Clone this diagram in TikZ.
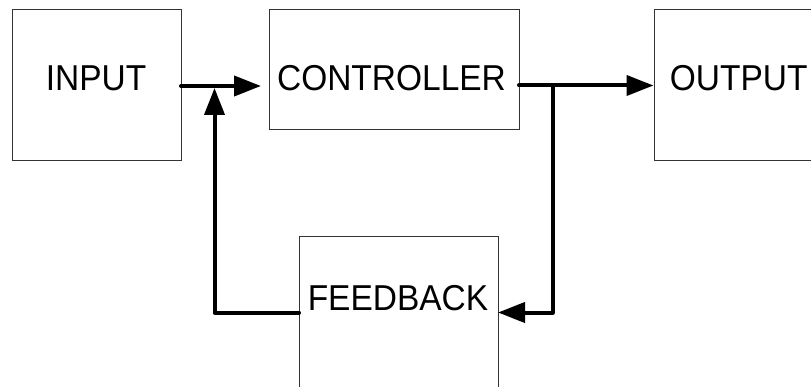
\documentclass[tikz,border=0pt]{standalone}
\usepackage{fontspec}
\setmainfont[FakeStretch=0.93]{Liberation Sans}
\usetikzlibrary{arrows.meta,calc}
\begin{document}
\begin{tikzpicture}[x=1pt,y=-1pt,
  box/.style={draw=black!80,line width=1pt,rectangle,inner sep=0pt,fill=none},
  lbl/.style={anchor=base,inner sep=0pt,font=\fontsize{36}{40}\selectfont},
  conn/.style={line width=4pt,line cap=round,line join=round,
    -{Triangle[length=27pt,width=20pt]}},
  plain/.style={line width=4pt,line cap=round,line join=round}]
\clip (0,0) rectangle (811,387);
\fill[white] (0,0) rectangle (811,387);
% boxes
\node[box,minimum width=169pt,minimum height=151pt] (in) at (96.5,85.5) {};
\node[box,minimum width=250pt,minimum height=120pt] (ctrl) at (394,70) {};
\node[box,minimum width=176pt,minimum height=151pt] (out) at (742,85.5) {};
\node[box,minimum width=199pt,minimum height=170pt] (fb) at (398.5,322) {};
% labels
\node[lbl] (tin) at (96,90.7) {INPUT};
\node[lbl] (tctrl) at (391.5,90.7) {CONTROLLER};
\node[lbl] (tout) at (738.7,90.7) {OUTPUT};
\node[lbl] (tfb) at (398,310.7) {FEEDBACK};
% junction coordinates
\coordinate (a1) at (181,86);
\coordinate (a2) at (261,86);
\coordinate (c1) at (519,85.5);
\coordinate (br) at (552.5,85.5);
\coordinate (br2) at (552.5,312.5);
\coordinate (fbin) at (498,312.5);
\coordinate (fbout) at (299,312.5);
\coordinate (fl) at (214.5,312.5);
\coordinate (fup) at (214.5,88);
% connectors
\draw[conn] (a1) -- (a2);
\draw[conn] (c1) -- (out.west);
\draw[conn] (br) -- (br2) -- (fbin);
\draw[conn] (fbout) -- (fl) -- (fup);
\end{tikzpicture}
\end{document}
